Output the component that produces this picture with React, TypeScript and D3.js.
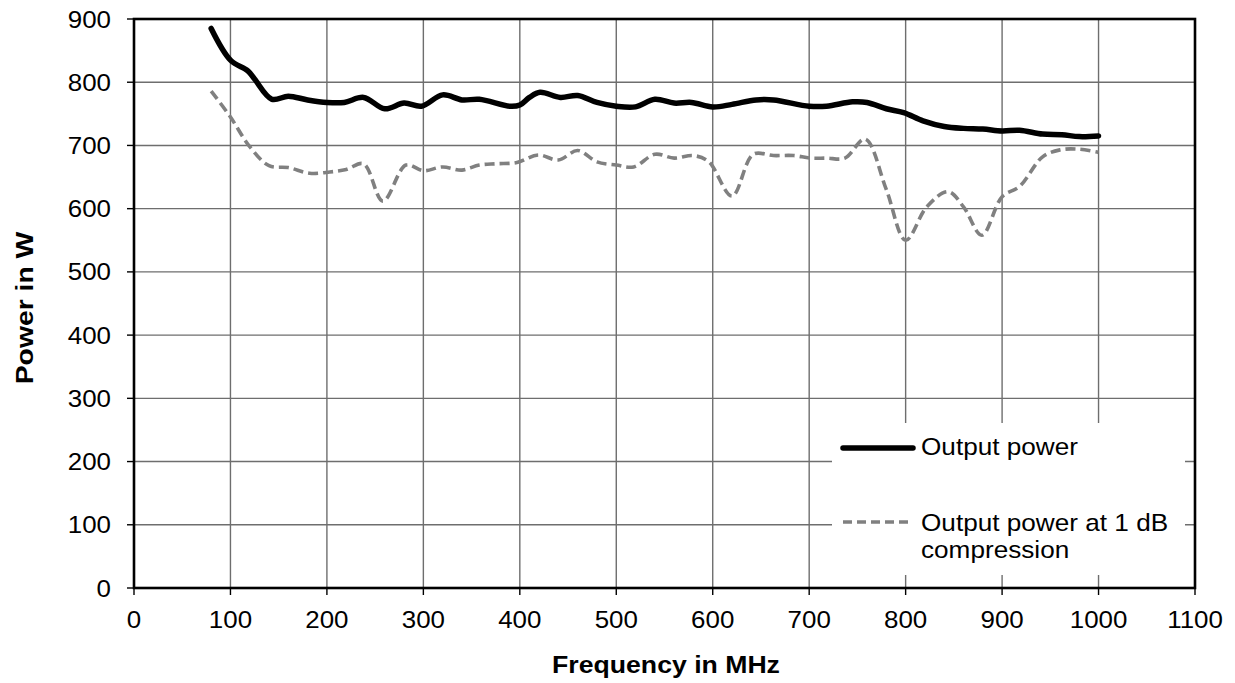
import React from "react";
import * as d3 from "d3";

const xTicks = [0, 100, 200, 300, 400, 500, 600, 700, 800, 900, 1000, 1100];
const yTicks = [0, 100, 200, 300, 400, 500, 600, 700, 800, 900];

const outFreq = [80, 100, 118, 125, 143, 160, 180, 200, 218, 238, 260, 280, 298, 320, 340, 358, 390, 400, 410, 421, 442, 460, 480, 500, 520, 540, 560, 578, 600, 620, 645, 663, 700, 718, 745, 760, 780, 798, 818, 840, 860, 880, 900, 918, 942, 962, 980, 1000];
const outPower = [885, 835, 818, 805, 773, 778, 772, 768, 768, 776, 758, 767, 762, 780, 772, 773, 762, 764, 776, 784, 776, 779, 768, 762, 761, 773, 767, 768, 761, 765, 772, 772, 762, 762, 769, 768, 758, 752, 739, 730, 727, 726, 723, 724, 718, 717, 714, 715];

const compFreq = [80, 100, 120, 140, 160, 182, 203, 220, 238, 258, 282, 300, 320, 340, 358, 376, 397, 419, 440, 460, 480, 500, 518, 540, 560, 580, 596, 620, 642, 663, 684, 701, 718, 737, 758, 780, 800, 822, 844, 860, 879, 900, 918, 942, 960, 980, 1000];
const compPower = [786, 745, 698, 668, 665, 656, 658, 662, 671, 612, 669, 660, 666, 661, 669, 671, 673, 685, 677, 692, 674, 669, 666, 686, 680, 684, 674, 620, 686, 684, 684, 680, 680, 680, 710, 630, 550, 603, 627, 603, 558, 619, 635, 682, 693, 694, 689];

const legendLabels = ["Output power", "Output power at 1 dB", "compression"];

const W = 1235;
const H = 683;
const L = 134, R = 1195, TOP = 19, BOT = 588;
const FONT = "'Liberation Sans', Arial, sans-serif";

function T(props: any) {
  const { x, y, anchor = "start", size = 24, sx = 1.08, weight = "normal", rotate = 0, children } = props;
  return (
    <text
      transform={`translate(${x},${y})${rotate ? ` rotate(${rotate})` : ""} scale(${sx},1)`}
      textAnchor={anchor}
      fontSize={size}
      fontWeight={weight}
      fontFamily={FONT}
      fill="#000"
    >
      {children}
    </text>
  );
}

export default function App() {
  const x = d3.scaleLinear().domain([0, 1100]).range([L, R]);
  const y = d3.scaleLinear().domain([0, 900]).range([BOT, TOP]);
  const line = d3
    .line<[number, number]>()
    .x((d) => x(d[0]))
    .y((d) => y(d[1]))
    .curve(d3.curveCatmullRom.alpha(0.5));
  const outPath = line(outFreq.map((f, i) => [f, outPower[i]]) as [number, number][]) || "";
  const compPath = line(compFreq.map((f, i) => [f, compPower[i]]) as [number, number][]) || "";

  const grid = "#6e6e6e";
  return (
    <div style={{ position: "absolute", left: 0, top: 0 }}>
      <svg width={W} height={H} style={{ display: "block", background: "#fff" }}>
        <rect x={0} y={0} width={W} height={H} fill="#fff" />
        {yTicks.map((t) => (
          <line key={"gy" + t} x1={L} x2={R} y1={y(t)} y2={y(t)} stroke={grid} strokeWidth={1.4} />
        ))}
        {xTicks.map((t) => (
          <line key={"gx" + t} x1={x(t)} x2={x(t)} y1={TOP} y2={BOT} stroke={grid} strokeWidth={1.4} />
        ))}
        {/* legend background */}
        <rect x={832} y={423} width={353} height={152} fill="#fff" />
        <path d={compPath} fill="none" stroke="#808080" strokeWidth={3.6} strokeDasharray="10,5" />
        <path d={outPath} fill="none" stroke="#000" strokeWidth={5.5} strokeLinejoin="round" strokeLinecap="round" />
        {/* frame */}
        <rect x={L} y={TOP} width={R - L} height={BOT - TOP} fill="none" stroke="#000" strokeWidth={2.6} />
        {yTicks.map((t) => (
          <line key={"ty" + t} x1={L - 7} x2={L} y1={y(t)} y2={y(t)} stroke="#000" strokeWidth={1.4} />
        ))}
        {xTicks.map((t) => (
          <line key={"tx" + t} x1={x(t)} x2={x(t)} y1={BOT} y2={BOT + 7} stroke="#000" strokeWidth={1.4} />
        ))}
        {yTicks.map((t) => (
          <T key={"ly" + t} x={111} y={y(t) + 8.5} anchor="end">{t}</T>
        ))}
        {xTicks.map((t) => (
          <T key={"lx" + t} x={x(t)} y={628} anchor="middle">{t}</T>
        ))}
        <T x={666} y={673} anchor="middle" weight="bold" sx={1.11}>Frequency in MHz</T>
        <T x={33} y={308} anchor="middle" weight="bold" rotate={-90} sx={1.18}>Power in W</T>
        {/* legend */}
        <line x1={843} x2={913} y1={448} y2={448} stroke="#000" strokeWidth={5.5} strokeLinecap="round" />
        <T x={921} y={455} sx={1.09}>{legendLabels[0]}</T>
        <line x1={843} x2={913} y1={522} y2={522} stroke="#808080" strokeWidth={3.6} strokeDasharray="9,5" />
        <T x={921} y={531} sx={1.09}>{legendLabels[1]}</T>
        <T x={921} y={558} sx={1.09}>{legendLabels[2]}</T>
      </svg>
    </div>
  );
}
